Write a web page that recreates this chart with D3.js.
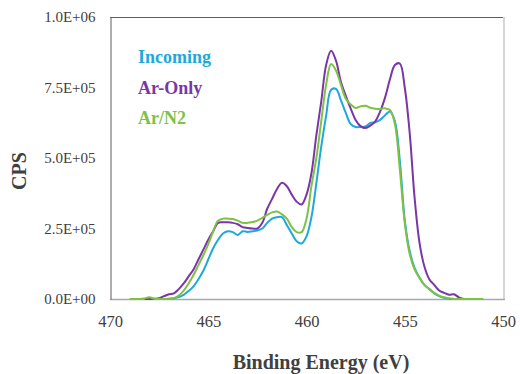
<!DOCTYPE html>
<html>
<head>
<meta charset="utf-8">
<script src="https://cdn.jsdelivr.net/npm/d3@7"></script>
<style>
  html, body { margin: 0; padding: 0; background: #fff; }
  svg { display: block; }
</style>
</head>
<body>
<figure id="chart" style="margin:0"></figure>
<script>
// binding energy grid (eV), 0.25 eV steps
const energies = [
  469.00, 468.75, 468.50, 468.25, 468.00, 467.75, 467.50, 467.25, 467.00, 466.75,
  466.50, 466.25, 466.00, 465.75, 465.50, 465.25, 465.00, 464.75, 464.50, 464.25,
  464.00, 463.75, 463.50, 463.25, 463.00, 462.75, 462.50, 462.25, 462.00, 461.75,
  461.50, 461.25, 461.00, 460.75, 460.50, 460.25, 460.00, 459.75, 459.50, 459.25,
  459.00, 458.75, 458.50, 458.25, 458.00, 457.75, 457.50, 457.25, 457.00, 456.75,
  456.50, 456.25, 456.00, 455.75, 455.50, 455.25, 455.00, 454.75, 454.50, 454.25,
  454.00, 453.75, 453.50, 453.25, 453.00, 452.75, 452.50, 452.25, 452.00, 451.75,
  451.50, 451.25, 451.00
];

// counts in thousands of CPS (null = no data)
const incoming = [
  null, null, null, null, null, null, 0, 0, 1, 3,
  7, 15, 28, 45, 70, 100, 140, 180, 210, 232,
  240, 237, 227, 240, 238, 240, 243, 250, 270, 285,
  290, 290, 262, 232, 205, 197, 222, 290, 410, 540,
  650, 742, 745, 705, 660, 620, 610, 610, 612, 624,
  627, 635, 652, 665, 630, 490, 280, 170, 110, 75,
  50, 35, 20, 10, 4, 1, 0, null, null, null,
  null, null, null
];

const arOnly = [
  null, null, null, 0, 0, 1, 3, 10, 17, 20,
  35, 55, 80, 105, 140, 175, 210, 240, 270, 272,
  272, 270, 265, 255, 252, 250, 250, 270, 320, 355,
  390, 412, 400, 370, 345, 335, 370, 445, 580, 700,
  830, 880, 845, 770, 720, 675, 635, 613, 606, 615,
  630, 665, 715, 780, 830, 835, 750, 590, 360, 200,
  115, 70, 50, 30, 22, 15, 17, 6, 0, null,
  null, null, null
];

const arN2 = [
  0, 0, 0, 2, 6, 1, 0, 0, 1, 3,
  12, 30, 55, 85, 120, 155, 195, 240, 278, 285,
  285, 284, 278, 270, 270, 273, 278, 288, 298, 307,
  310, 300, 285, 255, 237, 237, 285, 400, 500, 630,
  760, 833, 810, 760, 710, 690, 677, 683, 685, 678,
  675, 674, 676, 670, 620, 460, 270, 160, 105, 75,
  50, 35, 22, 12, 6, 3, 0, 0, 0, 0,
  0, 0, 0
];

const seriesNames = ["Incoming", "Ar-Only", "Ar/N2"];
const seriesColors = ["#1fa8dc", "#7a36a6", "#7dc243"];
const yTicks = [0, 250000, 500000, 750000, 1000000];
const yTickLabels = ["0.0E+00", "2.5E+05", "5.0E+05", "7.5E+05", "1.0E+06"];
const xTicks = [470, 465, 460, 455, 450];

const width = 520, height = 374;
const plot = { left: 110, right: 503, top: 17, bottom: 299 };

const svg = d3.select("#chart").append("svg")
  .attr("width", width)
  .attr("height", height);

const x = d3.scaleLinear().domain([470, 450]).range([plot.left, plot.right]);
const y = d3.scaleLinear().domain([0, 1000000]).range([plot.bottom, plot.top]);

const serif = "'Liberation Serif', 'Times New Roman', serif";

// plot frame
svg.append("line").attr("x1", plot.left).attr("x2", plot.right).attr("y1", plot.top + 0.5).attr("y2", plot.top + 0.5)
  .attr("stroke", "#5f5f5f").attr("stroke-width", 1);
svg.append("line").attr("x1", plot.right + 1).attr("x2", plot.right + 1).attr("y1", plot.top).attr("y2", plot.bottom)
  .attr("stroke", "#d6d6d6").attr("stroke-width", 2);
svg.append("line").attr("x1", plot.left).attr("x2", plot.right + 2).attr("y1", plot.bottom + 0.5).attr("y2", plot.bottom + 0.5)
  .attr("stroke", "#a8a8a8").attr("stroke-width", 1.5);

// Y axis
const yAxis = svg.append("g")
  .attr("transform", "translate(" + (plot.left + 0.5) + ",0)")
  .call(d3.axisLeft(y).tickValues(yTicks).tickSize(0).tickPadding(15)
    .tickFormat((d, i) => yTickLabels[i]));
yAxis.select(".domain").attr("stroke", "#5f5f5f");
yAxis.selectAll("text")
  .attr("font-family", serif).attr("font-size", 15).attr("fill", "#404040");

// X axis (labels only, the line is the frame bottom)
const xAxis = svg.append("g")
  .attr("transform", "translate(0," + plot.bottom + ")")
  .call(d3.axisBottom(x).tickValues(xTicks).tickSize(0).tickPadding(16).tickFormat(d3.format("d")));
xAxis.select(".domain").remove();
xAxis.selectAll("text")
  .attr("font-family", serif).attr("font-size", 16.5).attr("fill", "#404040");

// axis titles
svg.append("text")
  .attr("x", 321).attr("y", 369)
  .attr("text-anchor", "middle")
  .attr("font-family", serif).attr("font-size", 20).attr("font-weight", "bold")
  .attr("fill", "#404040")
  .text("Binding Energy (eV)");

svg.append("text")
  .attr("transform", "translate(26,171) rotate(-90)")
  .attr("text-anchor", "middle")
  .attr("font-family", serif).attr("font-size", 20).attr("font-weight", "bold")
  .attr("fill", "#404040")
  .text("CPS");

// curves
const allSeries = [incoming, arOnly, arN2];
const line = d3.line()
  .defined(d => d.v !== null)
  .x(d => x(d.e))
  .y(d => y(d.v * 1000))
  .curve(d3.curveCatmullRom.alpha(0.5));

allSeries.forEach((vals, i) => {
  const pts = energies.map((e, j) => ({ e: e, v: vals[j] }));
  svg.append("path")
    .datum(pts)
    .attr("fill", "none")
    .attr("stroke", seriesColors[i])
    .attr("stroke-width", 2)
    .attr("stroke-linejoin", "round")
    .attr("d", line);
});

// legend labels
seriesNames.forEach((name, i) => {
  svg.append("text")
    .attr("x", 138).attr("y", 63 + i * 30.5)
    .attr("font-family", serif).attr("font-size", 18).attr("font-weight", "bold")
    .attr("fill", seriesColors[i])
    .text(name);
});
</script>
</body>
</html>
